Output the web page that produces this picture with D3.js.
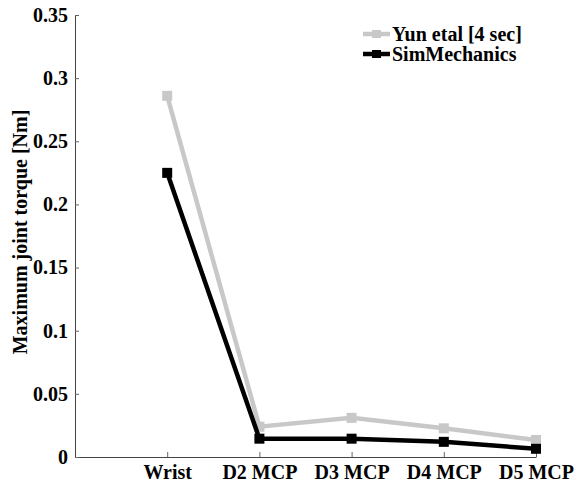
<!DOCTYPE html>
<html>
<head>
<meta charset="utf-8">
<script src="https://cdn.jsdelivr.net/npm/d3@7"></script>
<style>
  body { margin: 0; background: #fff; }
  text { font-family: "Liberation Serif", "Times New Roman", serif; font-weight: bold; }
</style>
</head>
<body>
<svg width="577" height="484"></svg>
<script>
var joints = ["Wrist", "D2 MCP", "D3 MCP", "D4 MCP", "D5 MCP"],
    yunValues = [0.286, 0.024, 0.031, 0.0227, 0.0135],
    simValues = [0.225, 0.0145, 0.0145, 0.012, 0.0065],
    yTicks = [0, 0.05, 0.1, 0.15, 0.2, 0.25, 0.3, 0.35],
    seriesNames = ["Yun etal [4 sec]", "SimMechanics"],
    seriesColors = ["#c8c8c8", "#000000"];

var svg = d3.select("svg");

var xScale = d3.scaleLinear().domain([0, joints.length]).range([75, 536]);
var yScale = d3.scaleLinear().domain([0, 0.35]).range([457, 15]);

// axes, matlab style: ticks pointing inward, no box
var xAxis = svg.append("g")
    .attr("transform", "translate(0," + yScale(0) + ")")
    .call(d3.axisBottom(xScale)
        .tickValues(d3.range(1, joints.length + 1))
        .tickFormat(function (d) { return joints[d - 1]; })
        .tickSizeInner(-5).tickSizeOuter(0).tickPadding(8));

var yAxis = svg.append("g")
    .attr("transform", "translate(" + xScale(0) + ",0)")
    .call(d3.axisLeft(yScale)
        .tickValues(yTicks)
        .tickFormat(function (d) { return d === 0 ? "0" : String(d); })
        .tickSizeInner(-4).tickSizeOuter(0).tickPadding(7));

[xAxis, yAxis].forEach(function (ax) {
    ax.select(".domain").attr("stroke", "#444");
    ax.selectAll(".tick line").attr("stroke", "#666");
    ax.selectAll("text")
        .attr("fill", "#000")
        .style("font-size", "20px")
        .style("font-family", "'Liberation Serif', 'Times New Roman', serif")
        .style("font-weight", "bold");
});
xAxis.selectAll("text").attr("dy", "0.71em");

svg.append("text")
    .attr("transform", "translate(27,232) rotate(-90)")
    .attr("text-anchor", "middle")
    .style("font-size", "20px")
    .text("Maximum joint torque [Nm]");

var line = d3.line()
    .x(function (d, i) { return xScale(i + 1); })
    .y(function (d) { return yScale(d); });

[yunValues, simValues].forEach(function (vals, k) {
    svg.append("path")
        .datum(vals)
        .attr("fill", "none")
        .attr("stroke", seriesColors[k])
        .attr("stroke-width", 4.5)
        .attr("stroke-linejoin", "miter")
        .attr("d", line);

    svg.selectAll(".m" + k)
        .data(vals).enter().append("rect")
        .attr("class", "m" + k)
        .attr("x", function (d, i) { return xScale(i + 1) - 5; })
        .attr("y", function (d) { return yScale(d) - 5; })
        .attr("width", 10)
        .attr("height", 10)
        .attr("fill", seriesColors[k]);
});

// legend
var legend = svg.append("g").attr("transform", "translate(363,34)");
seriesNames.forEach(function (name, k) {
    var row = legend.append("g").attr("transform", "translate(0," + (k * 20) + ")");
    row.append("line")
        .attr("x1", 0).attr("x2", 27)
        .attr("stroke", seriesColors[k]).attr("stroke-width", 4.5);
    row.append("rect")
        .attr("x", 9).attr("y", -4).attr("width", 9).attr("height", 8)
        .attr("fill", seriesColors[k]);
    row.append("text")
        .attr("x", 29).attr("dy", "0.35em")
        .style("font-size", "20px")
        .text(name);
});
</script>
</body>
</html>
